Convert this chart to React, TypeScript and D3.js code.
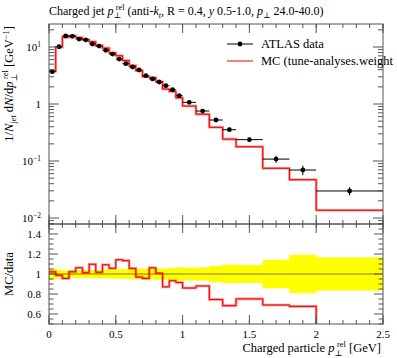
import React from 'react';
import * as d3 from 'd3';

// bin edges of the histogram (GeV)
const binEdges = [
  0, 0.05, 0.1, 0.15, 0.2, 0.25, 0.3, 0.35, 0.4, 0.45, 0.5, 0.55, 0.6, 0.65, 0.7,
  0.75, 0.8, 0.85, 0.9, 0.95, 1.0, 1.1, 1.2, 1.3, 1.4, 1.6, 1.8, 2.0, 2.5,
];

const dataValues = [
  3.69, 10.1, 15.6, 15.4, 13.8, 13.3, 11.3, 10.4, 8.75, 7.5, 6.15, 5.1, 4.46, 3.95,
  3.14, 2.75, 2.43, 2.1, 1.78, 1.4, 1.07, 0.753, 0.524, 0.354, 0.237, 0.108, 0.0695, 0.0298,
];

// relative data uncertainty (yellow band in ratio)
const dataRelErr = [
  0.055, 0.04, 0.035, 0.035, 0.035, 0.035, 0.037, 0.04, 0.04, 0.042, 0.045, 0.047, 0.05, 0.05,
  0.05, 0.05, 0.052, 0.055, 0.06, 0.063, 0.06, 0.063, 0.08, 0.09, 0.088, 0.14, 0.19, 0.163,
];

const mcValues = [
  3.77, 9.97, 14.9, 15.75, 14.67, 13.47, 12.4, 10.58, 9.56, 7.93, 7.03, 5.78, 4.71, 3.83,
  3.0, 2.92, 2.45, 1.83, 1.66, 1.28, 0.92, 0.663, 0.39, 0.242, 0.178, 0.0745, 0.047, 0.0137,
];

const xTicks = [0, 0.5, 1, 1.5, 2, 2.5];
const ratioTicks = [0.6, 0.8, 1, 1.2, 1.4];
const mainDecades = [-2, -1, 0, 1];

const W = 397;
const H = 358;
const left = 49;
const right = 383;
const mainTop = 24;
const mainBottom = 224;
const ratioBottom = 324;

const font = "'Liberation Serif', 'DejaVu Serif', serif";
const axisColor = '#555';

// p_perp^rel with the text that follows it put back on the baseline
function PRel({ size, after }: { size: number; after: string }) {
  const s = size * 0.68;
  return (
    <>
      <tspan fontStyle="italic">p</tspan>
      <tspan fontSize={s} dy={size * 0.28}>⊥</tspan>
      <tspan fontSize={s} dx={-s * 0.65} dy={-size * 0.7}>rel</tspan>
      <tspan dy={size * 0.42}>{after}</tspan>
    </>
  );
}

export default function App() {
  const x = d3.scaleLinear().domain([0, 2.5]).range([left, right]);
  const y = d3
    .scaleLog()
    .domain([Math.pow(10, -2.105), Math.pow(10, 1.4035)])
    .range([mainBottom, mainTop]);
  const yr = d3.scaleLinear().domain([0.5, 1.5]).range([ratioBottom, mainBottom]);

  const bins = dataValues.map((v, i) => ({
    x0: binEdges[i],
    x1: binEdges[i + 1],
    v,
    err: v * dataRelErr[i],
    rel: dataRelErr[i],
    mc: mcValues[i],
    ratio: mcValues[i] / v,
  }));

  const stepPts = (f: (b: any) => number): [number, number][] => {
    const pts: [number, number][] = bins.map((b) => [b.x0, f(b)]);
    pts.push([bins[bins.length - 1].x1, f(bins[bins.length - 1])]);
    return pts;
  };

  const mainLine = d3
    .line<[number, number]>()
    .x((d) => x(d[0]))
    .y((d) => y(d[1]))
    .curve(d3.curveStepAfter);
  const ratioLine = d3
    .line<[number, number]>()
    .x((d) => x(d[0]))
    .y((d) => yr(d[1]))
    .curve(d3.curveStepAfter);

  const mcPath = mainLine(stepPts((b) => b.mc)) || '';
  const ratioPath = ratioLine(stepPts((b) => b.ratio)) || '';

  // minor ticks
  const xMinor = d3.range(0, 2.5001, 0.1);
  const logMinor: number[] = [];
  for (let e = -3; e <= 1; e++) {
    for (let k = 2; k <= 9; k++) {
      const v = k * Math.pow(10, e);
      if (v > y.domain()[0] && v < y.domain()[1]) logMinor.push(v);
    }
  }
  const rMinor = d3.range(0.5, 1.5001, 0.05);

  const tickLines = (xs: number[], len: number, yTop: number, yBot: number) =>
    xs.map((v, i) => (
      <g key={i}>
        <line x1={x(v)} x2={x(v)} y1={yBot} y2={yBot - len} stroke={axisColor} />
        <line x1={x(v)} x2={x(v)} y1={yTop} y2={yTop + len} stroke={axisColor} />
      </g>
    ));

  return (
    <svg width={W} height={H} style={{ position: 'absolute', left: 0, top: 0 }} fontFamily={font}>
      <rect x={0} y={0} width={W} height={H} fill="#fff" />
      <defs>
        <clipPath id="ratioClip">
          <rect x={left} y={mainBottom} width={right - left} height={ratioBottom - mainBottom} />
        </clipPath>
        <clipPath id="mainClip">
          <rect x={left} y={mainTop} width={right - left} height={mainBottom - mainTop} />
        </clipPath>
      </defs>

      {/* title */}
      <text x={left} y={15} fontSize={12} fill="#000">
        Charged jet <PRel size={12} after=" (anti-" />
        <tspan fontStyle="italic">k</tspan>
        <tspan fontStyle="italic" fontSize={8} dy={2.5}>t</tspan>
        <tspan dy={-2.5}>, R = 0.4, </tspan>
        <tspan fontStyle="italic">y</tspan> 0.5-1.0, <tspan fontStyle="italic">p</tspan>
        <tspan fontSize={8} dy={2.5}>⊥</tspan>
        <tspan dy={-2.5}> 24.0-40.0)</tspan>
      </text>

      {/* main panel content */}
      <g clipPath="url(#mainClip)">
        <path d={mcPath} fill="none" stroke="#ff0000" strokeOpacity={0.45} strokeWidth={2.6} />
        <path d={mcPath} fill="none" stroke="#ee0000" strokeWidth={1} />
        {bins.map((b, i) => (
          <g key={i}>
            <line x1={x(b.x0)} x2={x(b.x1)} y1={y(b.v)} y2={y(b.v)} stroke="#000" strokeWidth={1} />
            <line
              x1={x((b.x0 + b.x1) / 2)}
              x2={x((b.x0 + b.x1) / 2)}
              y1={y(b.v - b.err)}
              y2={y(b.v + b.err)}
              stroke="#000"
              strokeWidth={1}
            />
            <circle cx={x((b.x0 + b.x1) / 2)} cy={y(b.v)} r={2.4} fill="#000" />
          </g>
        ))}
      </g>

      {/* ratio panel */}
      <g clipPath="url(#ratioClip)">
        {bins.map((b, i) => (
          <rect
            key={i}
            x={x(b.x0)}
            width={x(b.x1) - x(b.x0)}
            y={yr(1 + b.rel)}
            height={yr(1 - b.rel) - yr(1 + b.rel)}
            fill="#ffff00"
            stroke="#ffff00"
            strokeWidth={0.5}
          />
        ))}
        <line x1={left} x2={right} y1={yr(1)} y2={yr(1)} stroke="#000" strokeOpacity={0.5} />
        <path d={ratioPath} fill="none" stroke="#ff0000" strokeOpacity={0.45} strokeWidth={2.6} />
        <path d={ratioPath} fill="none" stroke="#ee0000" strokeWidth={1} />
      </g>

      {/* frames */}
      <rect x={left} y={mainTop} width={right - left} height={mainBottom - mainTop} fill="none" stroke={axisColor} />
      <rect x={left} y={mainBottom} width={right - left} height={ratioBottom - mainBottom} fill="none" stroke={axisColor} />

      {/* x ticks main + ratio */}
      {tickLines(xMinor, 4, mainTop, mainBottom)}
      {tickLines(xTicks, 9, mainTop, mainBottom)}
      {tickLines(xMinor, 4, mainBottom, ratioBottom)}
      {tickLines(xTicks, 9, mainBottom, ratioBottom)}

      {/* main y ticks */}
      {mainDecades.map((e) => (
        <g key={e}>
          <line x1={left} x2={left + 10} y1={y(Math.pow(10, e))} y2={y(Math.pow(10, e))} stroke={axisColor} />
          <line x1={right} x2={right - 10} y1={y(Math.pow(10, e))} y2={y(Math.pow(10, e))} stroke={axisColor} />
        </g>
      ))}
      {logMinor.map((v, i) => (
        <g key={i}>
          <line x1={left} x2={left + 5} y1={y(v)} y2={y(v)} stroke={axisColor} />
          <line x1={right} x2={right - 5} y1={y(v)} y2={y(v)} stroke={axisColor} />
        </g>
      ))}
      {mainDecades.map((e) =>
        e === 0 ? (
          <text key={e} x={41} y={y(1) + 4} fontSize={11} textAnchor="end" fill="#000">
            1
          </text>
        ) : (
          <text key={e} x={41} y={y(Math.pow(10, e)) + 4} fontSize={11} textAnchor="end" fill="#000">
            10
            <tspan fontSize={7.5} dy={-4.5}>
              {e < 0 ? '\u2212' + Math.abs(e) : String(e)}
            </tspan>
          </text>
        )
      )}

      {/* ratio y ticks */}
      {rMinor.map((v, i) => {
        const major = Math.abs(v * 5 - Math.round(v * 5)) < 1e-6;
        const len = major ? 9 : 4.5;
        return (
          <g key={i}>
            <line x1={left} x2={left + len} y1={yr(v)} y2={yr(v)} stroke={axisColor} />
            <line x1={right} x2={right - len} y1={yr(v)} y2={yr(v)} stroke={axisColor} />
          </g>
        );
      })}
      {ratioTicks.map((v) => (
        <text key={v} x={41} y={yr(v) + 4} fontSize={11} textAnchor="end" fill="#000">
          {v === 1 ? '1' : v.toFixed(1)}
        </text>
      ))}

      {/* x tick labels */}
      {xTicks.map((v) => (
        <text key={v} x={x(v)} y={338} fontSize={11} textAnchor="middle" fill="#000">
          {String(v)}
        </text>
      ))}

      {/* axis titles */}
      <text x={381} y={352} fontSize={12.5} textAnchor="end" fill="#000">
        Charged particle <PRel size={12.5} after=" [GeV]" />
      </text>
      <text
        transform={`translate(13,${mainTop + 2}) rotate(-90)`}
        fontSize={12.5}
        textAnchor="end"
        fill="#000"
      >
        1/<tspan fontStyle="italic">N</tspan>
        <tspan fontSize={8.5} dy={2.5}>jet</tspan>
        <tspan dy={-2.5}> d</tspan>
        <tspan fontStyle="italic">N</tspan>/d<PRel size={12.5} after=" [GeV" />
        <tspan fontSize={8.5} dy={-4.5}>{'\u22121'}</tspan>
        <tspan dy={4.5}>]</tspan>
      </text>
      <text
        transform={`translate(13,${yr(1)}) rotate(-90)`}
        fontSize={12.5}
        textAnchor="middle"
        fill="#000"
      >
        MC/data
      </text>

      {/* legend */}
      <line x1={227} x2={253} y1={44} y2={44} stroke="#000" />
      <circle cx={240} cy={44} r={2.4} fill="#000" />
      <text x={261} y={48} fontSize={12.5} fill="#000">
        ATLAS data
      </text>
      <line x1={227} x2={253} y1={61} y2={61} stroke="#ee0000" />
      <text x={261} y={65} fontSize={12.5} fill="#000">
        MC (tune-analyses.weight
      </text>
    </svg>
  );
}
